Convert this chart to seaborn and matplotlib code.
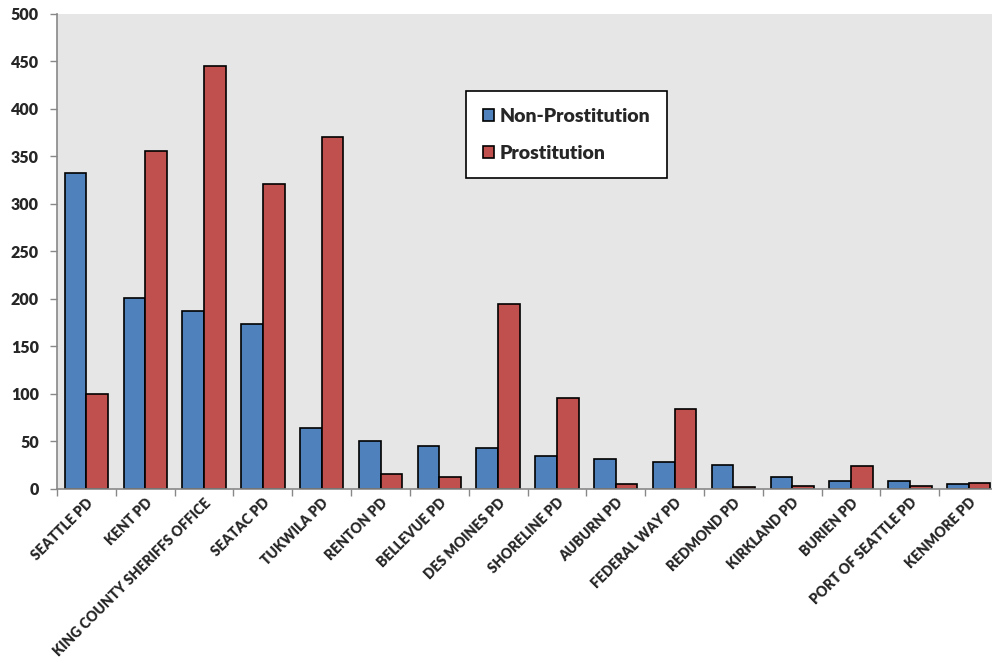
import matplotlib
matplotlib.use("Agg")
import matplotlib.pyplot as plt
import numpy as np
import pandas as pd
import seaborn as sns

AGENCIES = [
    "SEATTLE PD", "KENT PD", "KING COUNTY SHERIFFS OFFICE", "SEATAC PD",
    "TUKWILA PD", "RENTON PD", "BELLEVUE PD", "DES MOINES PD",
    "SHORELINE PD", "AUBURN PD", "FEDERAL WAY PD", "REDMOND PD",
    "KIRKLAND PD", "BURIEN PD", "PORT OF SEATTLE PD", "KENMORE PD",
]
NON_PROSTITUTION = [333, 201, 187, 174, 64, 51, 45, 43, 35, 32, 28, 25, 13, 8, 8, 5]
PROSTITUTION = [100, 356, 445, 321, 370, 16, 13, 195, 96, 5, 84, 2, 3, 24, 3, 6]
SERIES = ["Non-Prostitution", "Prostitution"]
COLORS = ["#4F81BD", "#C0504D"]

df = pd.DataFrame({
    "Agency": AGENCIES * 2,
    "Series": [SERIES[0]] * len(AGENCIES) + [SERIES[1]] * len(AGENCIES),
    "Count": NON_PROSTITUTION + PROSTITUTION,
})

sns.set_style("white")
plt.rcParams["font.family"] = ["Lato", "DejaVu Sans"]

fig = plt.figure(figsize=(9.92, 6.63), dpi=100)
ax = fig.add_axes([0.0575, 0.2625, 0.9486, 0.7164])
ax.set_facecolor("#e6e6e6")

sns.barplot(data=df, x="Agency", y="Count", hue="Series", order=AGENCIES,
            hue_order=SERIES, palette=COLORS, width=0.737, saturation=1,
            edgecolor="black", linewidth=1.2, errorbar=None, ax=ax)

ax.set_ylim(0, 500)
ax.set_xlim(-0.5, len(AGENCIES) - 0.5)
ax.set_yticks(np.arange(0, 501, 50))
ax.set_xlabel("")
ax.set_ylabel("")

for lab in ax.get_yticklabels():
    lab.set_fontweight("heavy")
    lab.set_fontsize(11.5)
ax.tick_params(axis="y", length=5, width=1, color="#888888", pad=8,
               left=True, direction="out")

# category separators as ticks on x
ax.set_xticks(np.arange(len(AGENCIES)))
ax.set_xticklabels(AGENCIES, rotation=45, ha="right", rotation_mode="anchor",
                   fontsize=10, fontweight="heavy")
ax.tick_params(axis="x", length=0, pad=5)
ax.set_xticks(np.arange(-0.5, len(AGENCIES), 1), minor=True)
ax.tick_params(axis="x", which="minor", length=5, width=1, color="#888888",
               bottom=True, direction="out")

for side in ["top", "right"]:
    ax.spines[side].set_visible(False)
for side in ["left", "bottom"]:
    ax.spines[side].set_color("#888888")
    ax.spines[side].set_linewidth(1.2)

handles, labels = ax.get_legend_handles_labels()
ax.legend(handles, labels, loc="upper left",
          bbox_to_anchor=(466 / 992, 1 - 91 / 663), bbox_transform=fig.transFigure,
          frameon=True, fancybox=False, edgecolor="black", facecolor="white",
          framealpha=1, prop={"weight": "heavy", "size": 14},
          handlelength=0.6, handleheight=0.6, handletextpad=0.3,
          labelspacing=1.05, borderpad=0.85, borderaxespad=0)
ax.get_legend().get_frame().set_linewidth(1.2)

fig.savefig("out.png", dpi=100)
